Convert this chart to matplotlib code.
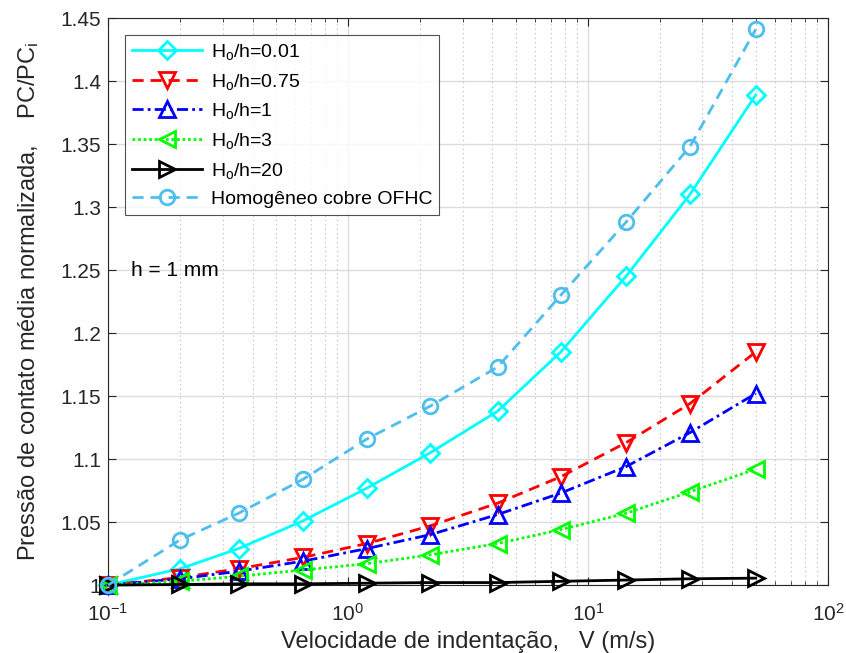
import matplotlib
matplotlib.use("Agg")
import matplotlib.pyplot as plt
import numpy as np
from matplotlib.ticker import LogLocator, FixedLocator, NullFormatter

plt.rcParams['font.family'] = ['Liberation Sans', 'DejaVu Sans']
plt.rcParams['mathtext.fontset'] = 'custom'
plt.rcParams['mathtext.rm'] = 'Liberation Sans'
plt.rcParams['mathtext.it'] = 'Liberation Sans'

# indentation velocity (m/s)
velocidade = [0.1, 0.2, 0.35, 0.65, 1.2, 2.2, 4.2, 7.7, 14.4, 26.6, 50]

# normalized mean contact pressure PC/PCi
pc_001 = [1.0, 1.013, 1.029, 1.051, 1.077, 1.105, 1.138, 1.185, 1.245, 1.310, 1.389]
pc_075 = [1.0, 1.006, 1.013, 1.022, 1.033, 1.047, 1.065, 1.086, 1.113, 1.144, 1.185]
pc_1 = [1.0, 1.005, 1.011, 1.019, 1.029, 1.040, 1.056, 1.073, 1.094, 1.121, 1.152]
pc_3 = [1.0, 1.003, 1.007, 1.012, 1.017, 1.024, 1.033, 1.044, 1.057, 1.074, 1.092]
pc_20 = [1.0, 1.0005, 1.001, 1.001, 1.0015, 1.002, 1.002, 1.003, 1.004, 1.005, 1.0055]
pc_ofhc = [1.0, 1.036, 1.057, 1.084, 1.116, 1.142, 1.173, 1.230, 1.288, 1.348, 1.441]

series = [
    (pc_001, r'H$_\mathrm{o}$/h=0.01', '#00FFFF', '-', 'D', 9),
    (pc_075, r'H$_\mathrm{o}$/h=0.75', '#FF0000', (0, (4, 2.5)), 'v', 11.5),
    (pc_1, r'H$_\mathrm{o}$/h=1', '#0000FF', (0, (4, 1.5, 1, 1.5)), '^', 11.5),
    (pc_3, r'H$_\mathrm{o}$/h=3', '#00FF00', (0, (1, 1)), '<', 11.5),
    (pc_20, r'H$_\mathrm{o}$/h=20', '#000000', '-', '>', 11.5),
    (pc_ofhc, 'Homogêneo cobre OFHC', '#4DBEEE', (0, (4, 2.5)), 'o', 10.5),
]

fig = plt.figure(figsize=(8.46, 6.53), dpi=100)
ax = fig.add_axes([0.1277, 0.104, 0.851, 0.8684])

for ys, label, color, ls, mk, ms in series:
    ax.plot(velocidade, ys, color=color, linestyle=ls, linewidth=2,
            marker=mk, markersize=ms, markerfacecolor='none',
            markeredgewidth=2, label=label, clip_on=False, zorder=3)

ax.set_xscale('log')
ax.set_xlim(0.1, 100)
ax.set_ylim(1.0, 1.45)

yticks = np.round(np.arange(1.0, 1.4501, 0.05), 2)
ax.yaxis.set_major_locator(FixedLocator(yticks))
ax.set_yticklabels(['1' if t == 1 else f'{t:g}' for t in yticks])
ax.xaxis.set_major_locator(LogLocator(base=10))
ax.xaxis.set_minor_locator(LogLocator(base=10, subs=np.arange(2, 10)))
ax.xaxis.set_minor_formatter(NullFormatter())

ax.grid(True, which='major', color='#DCDCDC', linewidth=1, linestyle='-')
ax.grid(True, which='minor', axis='x', color='#B8B8B8', linewidth=0.8,
        linestyle=(0, (1, 3)))
ax.set_axisbelow(True)

ax.tick_params(which='both', direction='in', top=True, right=True,
               labelsize=15, colors='#262626')
ax.tick_params(which='major', length=6)
ax.tick_params(which='minor', length=3)
ax.tick_params(axis='x', which='major', pad=13)
ax.tick_params(axis='y', which='major', pad=5)
for sp in ax.spines.values():
    sp.set_color('#262626')
    sp.set_linewidth(0.8)

ax.set_xlabel('Velocidade de indentação,   V (m/s)', fontsize=17,
              color='#262626', labelpad=4)
ax.set_ylabel(r'Pressão de contato média normalizada,    PC/PC$_\mathrm{i}$',
              fontsize=17, color='#262626', labelpad=14)

ax.text(0.1248, 1.25, 'h = 1 mm', fontsize=15, color='#000000', va='center')

leg = ax.legend(loc='upper left', bbox_to_anchor=(0.024, 0.97), fontsize=14,
                frameon=True, fancybox=False, handlelength=3.6,
                handletextpad=0.45, labelspacing=0.5, borderpad=0.35,
                borderaxespad=0)
leg.get_frame().set_edgecolor('#262626')
leg.get_frame().set_linewidth(0.8)

fig.savefig('out.png', dpi=100)
